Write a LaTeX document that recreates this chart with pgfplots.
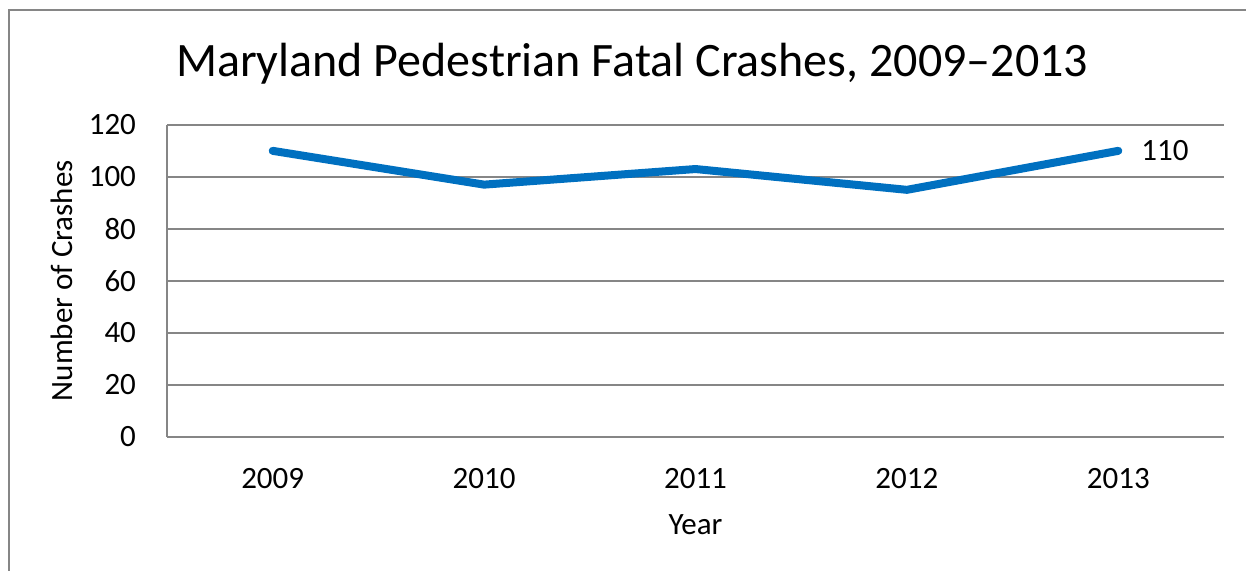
\documentclass[border=0pt]{standalone}
\usepackage{pgfplots}
\pgfplotsset{compat=1.18}
\usepackage{fontspec}
\setmainfont{Carlito}
\definecolor{lineblue}{RGB}{0,112,192}
\definecolor{gridgray}{RGB}{134,134,134}
\begin{document}
\begin{tikzpicture}[x=1pt,y=1pt]
\useasboundingbox (0,0) rectangle (623,285.5);
\draw[gridgray, line width=1pt] (4.5,-10) rectangle (640,280.5);
\node[font=\fontsize{24}{28}\selectfont, anchor=center] at (316,253.5) {Maryland Pedestrian Fatal Crashes, 2009–2013};
\begin{axis}[
  at={(79,51.6)}, anchor=south west,
  scale only axis, width=528.5pt, height=156pt,
  xmin=-0.5, xmax=4.5, ymin=0, ymax=120,
  xtick={0,1,2,3,4}, xticklabels={2009,2010,2011,2012,2013},
  ytick={0,20,40,60,80,100,120},
  axis x line*=bottom, axis y line*=left,
  axis line style={gridgray, line width=0.75pt},
  ymajorgrids, grid style={gridgray, line width=0.75pt},
  major tick length=0pt,
  tick label style={font=\fontsize{15.5}{18}\selectfont},
  /pgf/number format/assume math mode=true,
  yticklabel style={xshift=-12pt},
  xticklabel style={yshift=-12pt},
  xlabel={Year}, ylabel={Number of Crashes},
  label style={font=\fontsize{15.5}{18}\selectfont},
  xlabel style={at={(axis description cs:0.5,-0.282)}, anchor=center},
  ylabel style={at={(axis description cs:-0.0993,0.5)}, anchor=center},
  clip=false,
]
\addplot[lineblue, line width=4pt, line join=round, line cap=round] coordinates {
(0,110) (1,97) (2,103) (3,95) (4,110)
};
\node[anchor=west, font=\fontsize{15.5}{18}\selectfont, xshift=8pt] at (axis cs:4,110) {110};
\end{axis}
\end{tikzpicture}
\end{document}
